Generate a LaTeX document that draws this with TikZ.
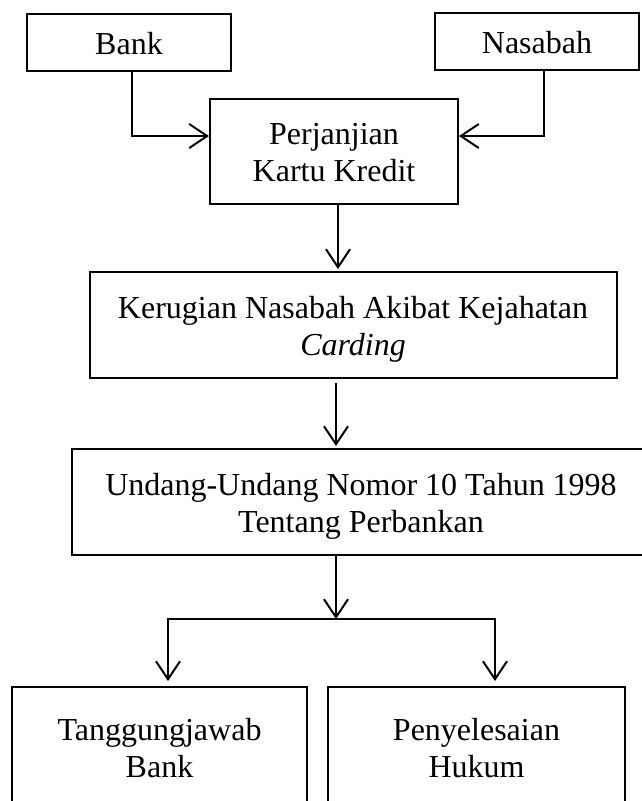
\documentclass[tikz,border=0pt]{standalone}
\usepackage{fontspec}
\setmainfont{Liberation Serif}
\usetikzlibrary{arrows.meta}
\begin{document}
\begin{tikzpicture}[x=1pt,y=-1pt,
  box/.style={draw, line width=2pt, inner sep=0pt, align=center, text height=60pt, text depth=0pt, font=\fontsize{32}{37}\selectfont},
  onebox/.style={box, text height=23pt},
  arr/.style={line width=2pt, -{Straight Barb[length=18pt,width=24pt]}}]
\useasboundingbox (0,0) rectangle (641,801);
\node[onebox, minimum width=204pt, minimum height=57pt] (bank) at (129,42.5) {Bank};
\node[onebox, minimum width=204pt, minimum height=57pt] (nasabah) at (537,41.5) {Nasabah};
\node[box, minimum width=248pt, minimum height=105pt] (perj) at (334,151.5) {Perjanjian\\Kartu Kredit};
\node[box, minimum width=527pt, minimum height=106pt] (rugi) at (353,325) {Kerugian Nasabah Akibat Kejahatan\\\textit{Carding}};
\node[box, minimum width=578pt, minimum height=106pt] (uu) at (361,502) {Undang-Undang Nomor 10 Tahun 1998\\Tentang Perbankan};
\node[box, minimum width=295pt, minimum height=121pt] (tj) at (159.5,747.5) {Tanggungjawab\\Bank};
\node[box, minimum width=297pt, minimum height=121pt] (ph) at (476.5,747.5) {Penyelesaian\\Hukum};
\draw[arr] ([xshift=3pt]bank.south) |- ([yshift=15.5pt]perj.west);
\draw[arr] ([xshift=7pt]nasabah.south) |- ([yshift=15.5pt]perj.east);
\draw[arr, shorten >=2pt] ([xshift=4pt]perj.south) -- ([xshift=4pt]perj.south |- rugi.north);
\draw[arr, shorten >=2pt, shorten <=4pt] ([xshift=-17pt]rugi.south) -- ([xshift=-17pt]rugi.south |- uu.north);
\coordinate (j) at (336,619);
\draw[arr] ([xshift=-25pt]uu.south) -- (j);
\draw[arr, shorten >=5pt] (j) -| ([xshift=8.5pt]tj.north);
\draw[arr, shorten >=5pt] (j) -| ([xshift=18.5pt]ph.north);
\end{tikzpicture}
\end{document}
